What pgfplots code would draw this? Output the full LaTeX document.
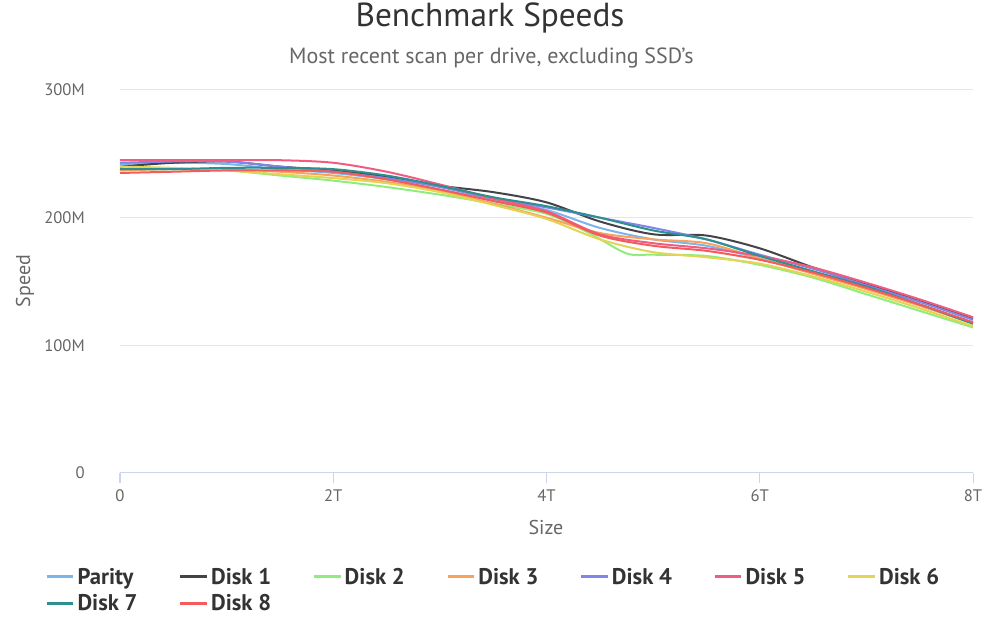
\documentclass[border=0pt]{standalone}
\usepackage{fontspec}
\setmainfont{PT Sans}
\usepackage{pgfplots}
\pgfplotsset{compat=1.18}
\definecolor{cParity}{HTML}{7CB5EC}
\definecolor{cD1}{HTML}{434348}
\definecolor{cD2}{HTML}{90ED7D}
\definecolor{cD3}{HTML}{F7A35C}
\definecolor{cD4}{HTML}{8085E9}
\definecolor{cD5}{HTML}{F15C80}
\definecolor{cD6}{HTML}{E4D354}
\definecolor{cD7}{HTML}{2B908F}
\definecolor{cD8}{HTML}{F45B5B}
\definecolor{tdark}{HTML}{333333}
\definecolor{tgray}{HTML}{666666}
\definecolor{gridc}{HTML}{E6E6E6}
\definecolor{axisc}{HTML}{CCD6EB}
\newcommand{\lgbox}[1]{\makebox[74pt][l]{#1}}
\begin{document}
\begin{tikzpicture}
\path[use as bounding box] (0,0) rectangle (750pt,468pt);
\node[text=tdark, font=\fontsize{25}{30}\selectfont] at (367.5pt,454.5pt) {Benchmark Speeds};
\node[text=tgray, font=\fontsize{16.5}{20}\selectfont] at (368.5pt,424.5pt) {Most recent scan per drive, excluding SSD's};
\node[text=tgray, font=\fontsize{15}{18}\selectfont, rotate=90] at (18.75pt,257.25pt) {Speed};
\node[text=tgray, font=\fontsize{15}{18}\selectfont] at (409.5pt,72pt) {Size};
\begin{axis}[
  at={(90pt,113.25pt)}, anchor=south west,
  scale only axis, width=639.75pt, height=287.25pt,
  xmin=0, xmax=8, ymin=0, ymax=300,
  xtick={0,2,4,6,8}, xticklabels={0,2T,4T,6T,8T},
  ytick={0,100,200,300}, yticklabels={0,100M,200M,300M},
  axis x line*=bottom, axis y line*=left,
  y axis line style={draw=none},
  x axis line style={color=axisc, line width=0.75pt},
  xtick style={color=axisc, line width=0.75pt},
  ytick style={draw=none},
  tick align=outside, major tick length=7.5pt,
  ymajorgrids, grid style={color=gridc, line width=0.75pt},
  /pgf/number format/assume math mode=true,
  ticklabel style={text=tgray, font=\fontsize{12.5}{15}\selectfont},
  yticklabel style={anchor=east, inner sep=0pt, xshift=-18.75pt},
  xticklabel style={anchor=north, inner sep=0pt, yshift=-5pt},
  every axis plot/.append style={line width=1.5pt, smooth},
  legend columns=7,
  legend cell align=left,
  legend image code/.code={\draw[#1, line width=2.2pt] (0pt,0pt) -- (20pt,0pt);},
  legend style={at={(-0.0879,-0.24)}, anchor=north west, draw=none, fill=none,
    font=\bfseries\fontsize{17}{20}\selectfont, text=tdark,
    row sep=2.25pt, inner sep=0pt},
  clip=false,
]
\addplot[color=cParity] coordinates {(0,242)(0.5,243)(1,242)(1.5,238)(2,235)(2.5,230)(3,222)(3.5,214)(4,206)(4.5,192)(5,183)(5.5,178)(6,168)(6.5,157)(7,145)(7.5,132)(8,118)};
\addlegendentry{\lgbox{Parity}}
\addplot[color=cD1] coordinates {(0,240)(0.5,243)(1,244)(1.5,240)(2,237)(2.5,232)(3,225)(3.5,220)(4,212)(4.5,197)(5,187)(5.5,186)(6,176)(6.5,161)(7,148)(7.5,135)(8,121)};
\addlegendentry{\lgbox{Disk 1}}
\addplot[color=cD2] coordinates {(0,238)(0.5,238)(1,237)(1.5,233)(2,229)(2.5,224)(3,218)(3.5,211)(4,203)(4.4,188)(4.75,172)(5,171)(5.5,170)(6,163)(6.5,153)(7,140)(7.5,127)(8,114)};
\addlegendentry{\lgbox{Disk 2}}
\addplot[color=cD3] coordinates {(0,237)(0.5,238)(1,238)(1.5,236)(2,233)(2.5,228)(3,221)(3.5,211)(4,200)(4.5,188)(5,183)(5.5,180)(6,168)(6.5,156)(7,144)(7.5,131)(8,117)};
\addlegendentry{\lgbox{Disk 3}}
\addplot[color=cD4] coordinates {(0,243)(0.5,244)(1,244)(1.5,240)(2,236)(2.5,231)(3,224)(3.5,215)(4,208)(4.5,200)(5,192)(5.5,183)(6,171)(6.5,160)(7,147)(7.5,134)(8,120)};
\addlegendentry{\lgbox{Disk 4}}
\addplot[color=cD5] coordinates {(0,245)(0.5,245)(1,245)(1.5,245)(2,243)(2.5,236)(3,226)(3.5,215)(4,205)(4.5,187)(5,180)(5.5,176)(6,170)(6.5,161)(7,149)(7.5,136)(8,122)};
\addlegendentry{\lgbox{Disk 5}}
\addplot[color=cD6] coordinates {(0,240)(0.5,239)(1,237)(1.5,234)(2,231)(2.5,227)(3,220)(3.5,210)(4,199)(4.5,183)(5,173)(5.5,169)(6,164)(6.5,154)(7,142)(7.5,129)(8,115)};
\addlegendentry{\lgbox{Disk 6}}
\addplot[color=cD7] coordinates {(0,238)(0.5,238)(1,239)(1.5,239)(2,238)(2.5,233)(3,225)(3.5,216)(4,209)(4.5,200)(5,190)(5.5,183)(6,170)(6.5,158)(7,146)(7.5,132)(8,117)};
\addlegendentry{\lgbox{Disk 7}}
\addplot[color=cD8] coordinates {(0,235)(0.5,236)(1,237)(1.5,237)(2,236)(2.5,230)(3,222)(3.5,213)(4,204)(4.5,186)(5,178)(5.5,174)(6,167)(6.5,157)(7,145)(7.5,132)(8,118)};
\addlegendentry{\lgbox{Disk 8}}
\end{axis}
\end{tikzpicture}
\end{document}
